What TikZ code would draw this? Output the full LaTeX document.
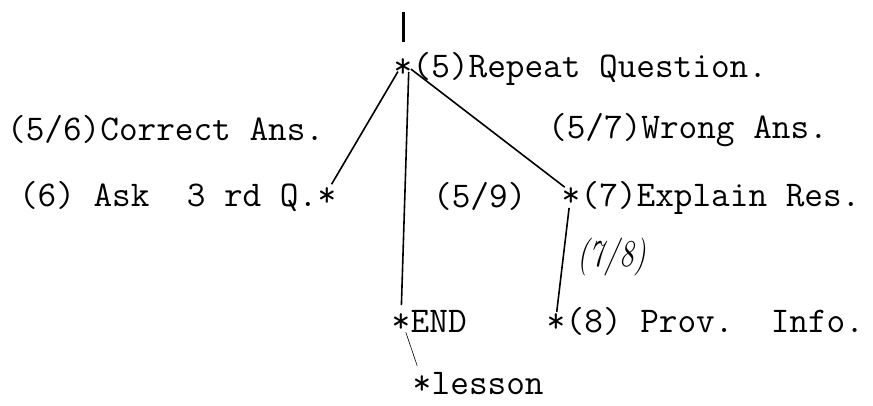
\documentclass[tikz,border=0pt]{standalone}
\usetikzlibrary{positioning}
\begin{document}
\begin{tikzpicture}[x=1pt, y=-1pt,
  tt/.style={font=\fontsize{36.2}{40}\selectfont\ttfamily\frenchspacing, inner sep=0pt},
  ast/.style={tt, text height=29.7pt, text depth=0pt},
  link/.style={line width=1.6pt}]
\useasboundingbox (0,0) rectangle (873,405);
% stars of the steps
\node[ast] (s5) at (403,63) {*};
\node[ast] (s6) at (327,192) {*};
\node[ast] (s7) at (571,192) {*};
\node[ast] (s9) at (401,318) {*};
\node[ast] (s8) at (556,318) {*};
\node[ast] (sL) at (422,380) {*};
\coordinate (in5) at (403,12);
% step texts
\node[tt, base right=0pt of s5] (q5) {(5)Repeat Question.};
\node[tt, base left=0pt of s6] (q6) {(6) Ask~~3 rd Q.};
\node[tt, base right=0pt of s7] (q7) {(7)Explain Res.};
\node[tt, base right=0pt of s9] (q9) {END};
\node[tt, base right=0pt of s8] (q8) {(8) Prov.~~Info.};
\node[tt, base right=0pt of sL] (qL) {lesson};
% branch labels
\node[tt, anchor=base west] (l56) at (7,140) {(5/6)Correct Ans.};
\node[tt, anchor=base west] (l57) at (548,138) {(5/7)Wrong Ans.};
\node[tt, anchor=base west] (l59) at (433,207) {(5/9)};
\node[font=\fontsize{38}{38}\selectfont\itshape, inner sep=0pt] (l78) at (612,257) {\scalebox{0.78}[1]{(7/8)}};
% connectors
\draw[line width=3pt, shorten >=21pt] (in5) -- (s5.center);
\draw[link, shorten <=10pt, shorten >=9pt] (s5.center) -- (s6.center);
\draw[link, shorten <=9pt, shorten >=13pt] ([xshift=6pt]s5.center) -- (s9.center);
\draw[link, shorten <=10pt, shorten >=8pt] (s5.center) -- (s7.center);
\draw[link, shorten <=16pt, shorten >=6pt] (s7.center) -- (s8.center);
\draw[line width=0.6pt, shorten <=15pt, shorten >=15pt] (s9.center) -- (sL.center);
\end{tikzpicture}
\end{document}
